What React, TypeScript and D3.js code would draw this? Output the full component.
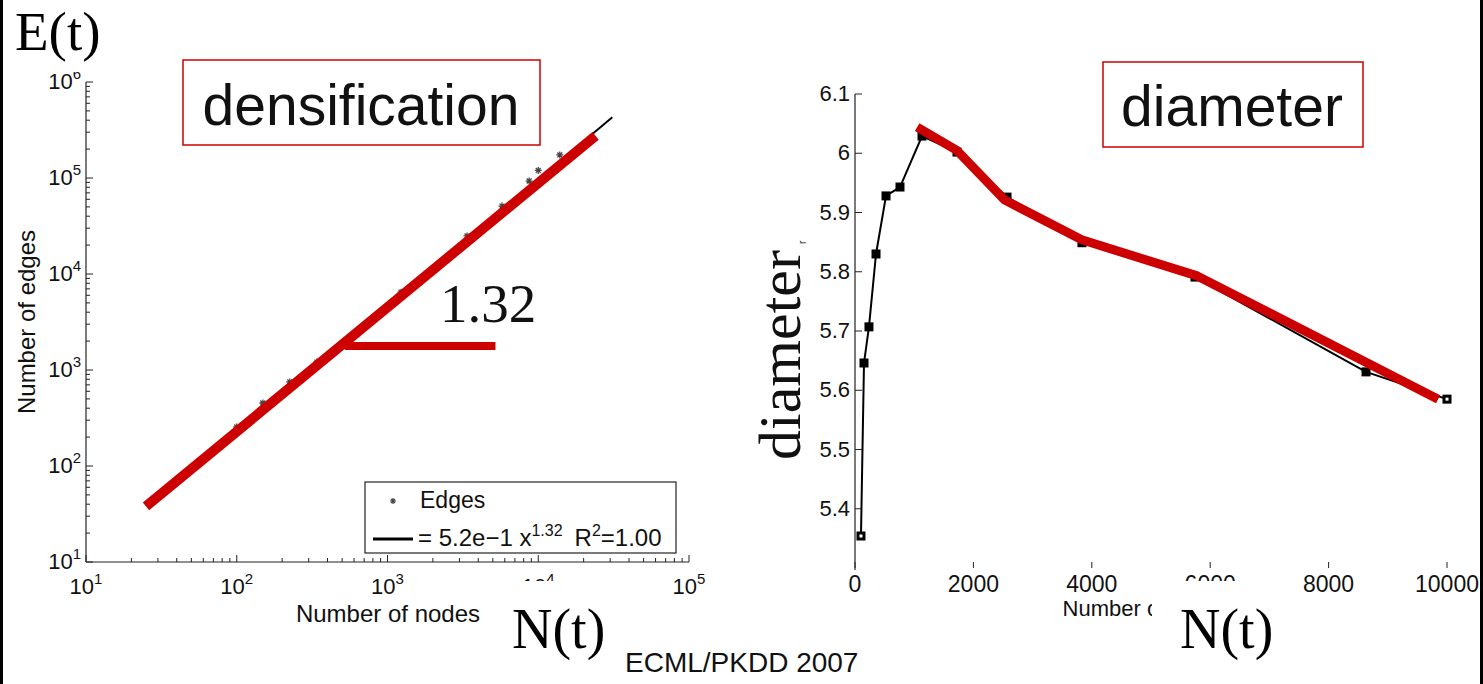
import React from "react";
import * as d3 from "d3";

const W = 1483;
const H = 684;
const RED = "#cc0000";
const SANS = "'Liberation Sans', Arial, sans-serif";
const SERIF = "'Liberation Serif', 'Times New Roman', serif";

// left panel: number of edges vs number of nodes (log-log)
const edgeNodes = [100, 149, 225, 340, 1230, 3370, 5750, 8700, 10000, 13900];
const edgeCounts = [255, 453, 750, 1210, 6460, 24900, 51000, 93000, 120000, 174000];
const blackFitNodes = [100, 31000];
const blackFitEdges = [224, 430000];
const redFitNodes = [25, 24000];
const redFitEdges = [38, 275000];
const slopeNodes = [520, 5200];
const slopeEdges = [1780, 1780];
const xDecades = [1, 2, 3, 4, 5];
const yDecades = [1, 2, 3, 4, 5, 6];

// right panel: diameter vs number of nodes
const diamNodes = [101, 152, 236, 355, 524, 760, 1132, 1723, 2568, 3834, 5743, 8632, 10000];
const diamValues = [5.354, 5.646, 5.707, 5.83, 5.928, 5.943, 6.029, 6.002, 5.926, 5.849, 5.791, 5.631, 5.585];
const diamFitNodes = [1050, 1720, 2530, 3830, 5780, 9850];
const diamFitValues = [6.044, 6.005, 5.921, 5.854, 5.793, 5.585];
const diamYTicks = ["5.4", "5.5", "5.6", "5.7", "5.8", "5.9", "6", "6.1"];
const diamXTicks = [0, 2000, 4000, 6000, 8000, 10000];

const xL = d3.scaleLog().domain([10, 1e5]).range([86, 689]);
const yL = d3.scaleLog().domain([10, 1e6]).range([562, 82]);
const xR = d3.scaleLinear().domain([0, 10000]).range([855, 1447]);
const yR = d3.scaleLinear().domain([5.3, 6.1]).range([568, 94]);

const lineL = d3
  .line<[number, number]>()
  .x(d => xL(d[0]))
  .y(d => yL(d[1]));
const lineR = d3
  .line<[number, number]>()
  .x(d => xR(d[0]))
  .y(d => yR(d[1]));

const zip = (a: number[], b: number[]) => a.map((v, i) => [v, b[i]] as [number, number]);

const star = (cx: number, cy: number, r = 3.5) => {
  const k = r * 0.7;
  return `M${cx - r},${cy}L${cx + r},${cy}M${cx},${cy - r}L${cx},${cy + r}` +
    `M${cx - k},${cy - k}L${cx + k},${cy + k}M${cx - k},${cy + k}L${cx + k},${cy - k}`;
};

const isMajor = (v: number) => Math.abs(Math.log10(v) - Math.round(Math.log10(v))) < 1e-9;

export default function App() {
  const xTicks = xL.ticks();
  const yTicks = yL.ticks();
  return (
    <svg
      width={W}
      height={H}
      viewBox={`0 0 ${W} ${H}`}
      style={{ position: "absolute", left: 0, top: 0, background: "#fff" }}
    >
      <defs>
        <clipPath id="cutR">
          <rect x={1000} y={590} width={152} height={40} />
        </clipPath>
      </defs>
      <rect x={0} y={0} width={W} height={H} fill="#fff" />

      {/* ---------- left panel ---------- */}
      <g fontFamily={SANS} fill="#111">
        <line x1={86} x2={86} y1={82} y2={562} stroke="#222" strokeWidth={1.2} />
        <line x1={86} x2={689} y1={562} y2={562} stroke="#222" strokeWidth={1.2} />
        {xTicks.map((t, i) => (
          <line key={"xt" + i} x1={xL(t)} x2={xL(t)} y1={562} y2={562 - (isMajor(t) ? 7 : 4)} stroke="#222" />
        ))}
        {yTicks.map((t, i) => (
          <line key={"yt" + i} x1={86} x2={86 + (isMajor(t) ? 7 : 4)} y1={yL(t)} y2={yL(t)} stroke="#222" />
        ))}
        {xDecades.map(e => (
          <text key={"xl" + e} x={xL(10 ** e)} y={594} textAnchor="middle" fontSize={22}>
            10<tspan dy={-10} fontSize={15}>{e}</tspan>
          </text>
        ))}
        {yDecades.map(e => (
          <text key={"yl" + e} x={81} y={yL(10 ** e) + 7} textAnchor="end" fontSize={22}>
            10<tspan dy={-10} fontSize={15}>{e}</tspan>
          </text>
        ))}
        <text x={388} y={622} textAnchor="middle" fontSize={24}>Number of nodes</text>
        <text transform="translate(35,322) rotate(-90)" textAnchor="middle" fontSize={24}>Number of edges</text>

        <path d={lineL(zip(blackFitNodes, blackFitEdges)) || ""} stroke="#000" strokeWidth={2} fill="none" />
        {edgeNodes.map((n, i) => (
          <path key={"p" + i} d={star(xL(n), yL(edgeCounts[i]))} stroke="#444" strokeWidth={1.3} />
        ))}
        <path d={lineL(zip(redFitNodes, redFitEdges)) || ""} stroke={RED} strokeWidth={10} fill="none" />
        <path d={lineL(zip(slopeNodes, slopeEdges)) || ""} stroke={RED} strokeWidth={8} fill="none" />
        <text x={440} y={322} fontFamily={SERIF} fontSize={55}>1.32</text>

        {/* legend */}
        <rect x={365} y={482} width={311} height={71} fill="#fff" stroke="#222" strokeWidth={1.2} />
        <path d={star(393, 501, 3)} stroke="#444" strokeWidth={1.2} />
        <text x={420} y={508} fontSize={23}>Edges</text>
        <line x1={373} x2={413} y1={539} y2={539} stroke="#000" strokeWidth={3} />
        <text x={418} y={546} fontSize={24}>
          = 5.2e−1 x<tspan dy={-10} fontSize={16}>1.32</tspan>
          <tspan dy={10} dx={12}>R</tspan>
          <tspan dy={-10} fontSize={16}>2</tspan>
          <tspan dy={10}>=1.00</tspan>
        </text>

        <rect x={183} y={60} width={357} height={85} fill="#fff" stroke={RED} strokeWidth={1.5} />
        <text x={361} y={125} textAnchor="middle" fontSize={57}>densification</text>
      </g>

      {/* ---------- right panel ---------- */}
      <g fontFamily={SANS} fill="#111">
        <line x1={855} x2={855} y1={94} y2={570} stroke="#222" strokeWidth={1.2} />
        {diamYTicks.map(t => (
          <g key={"ry" + t}>
            <line x1={855} x2={862} y1={yR(+t)} y2={yR(+t)} stroke="#222" />
            <text x={850} y={yR(+t) + 7} textAnchor="end" fontSize={22}>{t}</text>
          </g>
        ))}
        {diamXTicks.map(t => (
          <g key={"rx" + t}>
            <line x1={xR(t)} x2={xR(t)} y1={568} y2={562} stroke="#222" />
            <text x={xR(t)} y={592} textAnchor="middle" fontSize={23}>{t}</text>
          </g>
        ))}
        <text x={1147} y={616} textAnchor="middle" fontSize={22} clipPath="url(#cutR)">Number of nodes</text>

        <path d={lineR(zip(diamNodes, diamValues)) || ""} stroke="#000" strokeWidth={2} fill="none" />
        {diamNodes.map((n, i) => (
          <g key={"sq" + i}>
            <rect x={xR(n) - 4.5} y={yR(diamValues[i]) - 4.5} width={9} height={9} fill="#000" />
            {(i === 0 || i === diamNodes.length - 1) && (
              <rect x={xR(n) - 1.5} y={yR(diamValues[i]) - 1.5} width={3} height={3} fill="#fff" />
            )}
          </g>
        ))}
        <path
          d={lineR(zip(diamFitNodes, diamFitValues)) || ""}
          stroke={RED}
          strokeWidth={9}
          fill="none"
          strokeLinejoin="round"
        />

        <text transform="translate(800,355) rotate(-90)" textAnchor="middle" fontFamily={SERIF} fontSize={60}>
          diameter
        </text>
        <text transform="translate(806,244) rotate(-90)" fontSize={10}>r</text>

        <rect x={1103} y={62} width={260} height={85} fill="#fff" stroke={RED} strokeWidth={1.5} />
        <text x={1232} y={126} textAnchor="middle" fontSize={57}>diameter</text>
      </g>

      {/* slide overlays */}
      <rect x={4} y={0} width={136} height={72} fill="#fff" />
      <text x={15} y={50} fontFamily={SERIF} fontSize={55} fill="#000">E(t)</text>
      <rect x={505} y={581} width={112} height={103} fill="#fff" />
      <text x={512} y={648} fontFamily={SERIF} fontSize={56} fill="#000">N(t)</text>
      <rect x={1152} y={581} width={139} height={103} fill="#fff" />
      <text x={1180} y={648} fontFamily={SERIF} fontSize={56} fill="#000">N(t)</text>
      <text x={625} y={672} fontFamily={SANS} fontSize={28} fill="#111">ECML/PKDD 2007</text>

      <rect x={0} y={0} width={3} height={H} fill="#000" />
      <rect x={1480} y={0} width={3} height={H} fill="#000" />
    </svg>
  );
}
